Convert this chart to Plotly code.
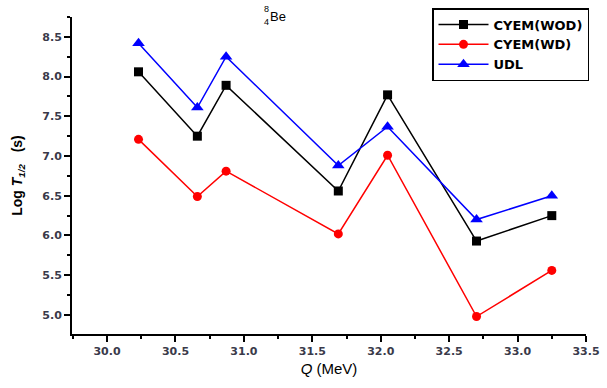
import plotly.graph_objects as go

q_mev = [30.23, 30.66, 30.87, 31.69, 32.05, 32.70, 33.25]
cyem_wod = [8.06, 7.25, 7.89, 6.56, 7.77, 5.93, 6.25]
cyem_wd = [7.21, 6.49, 6.81, 6.02, 7.01, 4.98, 5.56]
udl = [8.42, 7.61, 8.25, 6.88, 7.37, 6.20, 6.50]

x_ticks = [30.0, 30.5, 31.0, 31.5, 32.0, 32.5, 33.0, 33.5]
y_ticks = [5.0, 5.5, 6.0, 6.5, 7.0, 7.5, 8.0, 8.5]

fig = go.Figure()
series = [
    ("CYEM(WOD)", cyem_wod, "black", "square", 9),
    ("CYEM(WD)", cyem_wd, "#ff0000", "circle", 9),
    ("UDL", udl, "#0000ff", "triangle-up", 11),
]
for name, ys, col, sym, sz in series:
    fig.add_trace(go.Scatter(
        x=q_mev, y=ys, name=name, mode="lines+markers",
        line=dict(color=col, width=1.5),
        marker=dict(color=col, symbol=sym, size=sz),
    ))

tickfont = dict(family="DejaVu Sans", size=11, color="#3a3a4a", weight="bold")
fig.update_layout(
    width=607, height=388,
    margin=dict(l=72, r=21, t=17, b=54, autoexpand=False),
    paper_bgcolor="white", plot_bgcolor="white",
    showlegend=True,
    legend=dict(
        x=(432 - 72) / 514, y=(334 - 8) / 317, xanchor="left", yanchor="top",
        bordercolor="black", borderwidth=1.5, bgcolor="white",
        font=dict(family="DejaVu Sans", size=13, color="black", weight="bold"),
        itemwidth=50, tracegroupgap=0,
    ),
    xaxis=dict(
        automargin=False,
        range=[29.744, 33.5], tickvals=x_ticks,
        ticktext=[f"{v:.1f}" for v in x_ticks],
        showgrid=False, zeroline=False,
        showline=True, linecolor="black", linewidth=2,
        ticks="outside", ticklen=6, tickwidth=2, tickcolor="black",
        minor=dict(dtick=0.25, tick0=30.0, ticks="outside", ticklen=3, tickwidth=1.5, tickcolor="black"),
        tickfont=tickfont,
        title=dict(text="<i>Q</i> (MeV)", font=dict(family="Arial", size=15, color="black"), standoff=6),
    ),
    yaxis=dict(
        automargin=False,
        range=[4.76, 8.75], tickvals=y_ticks,
        ticktext=[f"{v:.1f}" for v in y_ticks],
        showgrid=False, zeroline=False,
        showline=True, linecolor="black", linewidth=2,
        ticks="outside", ticklen=6, tickwidth=2, tickcolor="black",
        minor=dict(dtick=0.25, tick0=5.0, ticks="outside", ticklen=3, tickwidth=1.5, tickcolor="black"),
        tickfont=tickfont,
        title=dict(text="Log <i>T</i><sub><i>1/2</i></sub>   (s)",
                   font=dict(family="Arial", size=14, color="black", weight="bold"), standoff=16),
    ),
)

# Nuclide label
fig.add_annotation(xref="paper", yref="paper", x=(262 - 72) / 514, y=(334 - 9) / 317,
                   text="8", showarrow=False, xanchor="left", yanchor="middle",
                   font=dict(family="Arial", size=9, color="black"))
fig.add_annotation(xref="paper", yref="paper", x=(262 - 72) / 514, y=(334 - 22) / 317,
                   text="4", showarrow=False, xanchor="left", yanchor="middle",
                   font=dict(family="Arial", size=9, color="black"))
fig.add_annotation(xref="paper", yref="paper", x=(268 - 72) / 514, y=(334 - 16) / 317,
                   text="Be", showarrow=False, xanchor="left", yanchor="middle",
                   font=dict(family="Arial", size=13, color="black"))

fig.write_html("out.html", config={"displayModeBar": False},
               post_script="document.body.style.margin='0';")
